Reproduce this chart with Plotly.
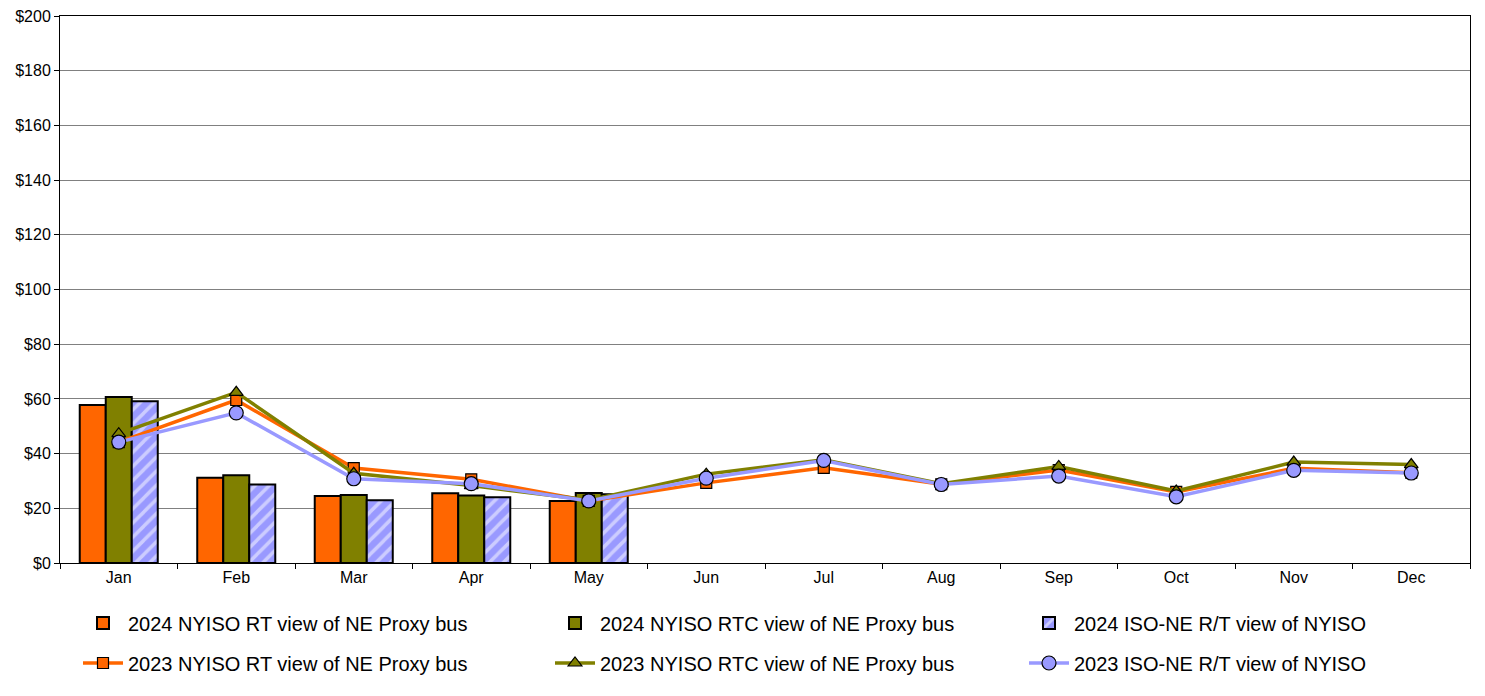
import plotly.graph_objects as go

months = ['Jan', 'Feb', 'Mar', 'Apr', 'May', 'Jun', 'Jul', 'Aug', 'Sep', 'Oct', 'Nov', 'Dec']

# 2024 monthly values (bars, Jan-May)
rt_2024 = [57.8, 31.2, 24.5, 25.5, 22.7]
rtc_2024 = [60.7, 32.1, 24.9, 24.7, 25.6]
isone_2024 = [59.1, 28.7, 22.9, 24.0, 25.1]

# 2023 monthly values (lines)
rt_2023 = [44.2, 59.6, 34.7, 30.6, 22.7, 29.3, 34.8, 28.8, 34.0, 26.0, 34.6, 33.0]
rtc_2023 = [47.3, 62.4, 32.8, 28.3, 23.0, 32.5, 37.7, 29.0, 35.3, 26.3, 36.9, 36.0]
isone_2023 = [44.2, 54.9, 30.8, 29.0, 22.7, 31.0, 37.5, 28.7, 31.8, 24.2, 33.9, 32.9]

tick_vals = list(range(0, 201, 20))
tick_text = ['$' + str(v) for v in tick_vals]

ORANGE = '#FF6600'
OLIVE = '#808000'
LAVENDER = '#9999FF'
FONT = 'Liberation Sans, Arial'

# page body adds an 8px margin, so the figure is sized to fit the window
W, H = 1477, 680

fig = go.Figure()

fig.add_trace(go.Bar(
    x=months[:len(rt_2024)], y=rt_2024, name='2024 NYISO RT view of NE Proxy bus',
    marker=dict(color=ORANGE, line=dict(color='black', width=2)), legend='legend'))
fig.add_trace(go.Bar(
    x=months[:len(rtc_2024)], y=rtc_2024, name='2024 NYISO RTC view of NE Proxy bus',
    marker=dict(color=OLIVE, line=dict(color='black', width=2)), legend='legend2'))
fig.add_trace(go.Bar(
    x=months[:len(isone_2024)], y=isone_2024, name='2024 ISO-NE R/T view of NYISO',
    marker=dict(color=LAVENDER, line=dict(color='black', width=2),
                pattern=dict(shape='/', fgcolor='white', bgcolor=LAVENDER,
                             size=10, solidity=0.35)), legend='legend3'))

fig.add_trace(go.Scatter(
    x=months, y=rt_2023, name='2023 NYISO RT view of NE Proxy bus', mode='lines+markers',
    line=dict(color=ORANGE, width=3.5), legend='legend4',
    marker=dict(symbol='square', size=11, color=ORANGE, line=dict(color='black', width=1.2))))
fig.add_trace(go.Scatter(
    x=months, y=rtc_2023, name='2023 NYISO RTC view of NE Proxy bus', mode='lines+markers',
    line=dict(color=OLIVE, width=3.5), legend='legend5',
    marker=dict(symbol='triangle-up', size=12, color=OLIVE, line=dict(color='black', width=1.2))))
fig.add_trace(go.Scatter(
    x=months, y=isone_2023, name='2023 ISO-NE R/T view of NYISO', mode='lines+markers',
    line=dict(color=LAVENDER, width=3.5), legend='legend6',
    marker=dict(symbol='circle', size=14, color=LAVENDER, line=dict(color='black', width=1.2))))

fig.update_xaxes(
    categoryorder='array', categoryarray=months, range=[-0.5, 11.5],
    showline=True, linecolor='black', linewidth=1, mirror=True,
    ticks='outside', tickson='boundaries', ticklen=5, tickcolor='black',
    showgrid=False, tickfont=dict(family=FONT, size=16, color='black'))
fig.update_yaxes(
    range=[0, 200], tickvals=tick_vals, ticktext=tick_text,
    showline=True, linecolor='black', linewidth=1, mirror=True,
    ticks='outside', ticklen=5, tickcolor='black', automargin=False,
    ticklabeloverflow='allow',
    showgrid=True, gridcolor='#808080', gridwidth=1, zeroline=False,
    tickfont=dict(family=FONT, size=16, color='black'))

# outer chart border on the right side
fig.add_shape(type='line', xref='paper', yref='paper',
              x0=1.006, x1=1.006, y0=-0.225, y1=1.012,
              line=dict(color='black', width=2), layer='above')

leg = dict(orientation='h', xref='container', yref='container',
           xanchor='left', yanchor='middle', itemwidth=40,
           font=dict(family=FONT, size=20, color='black'), bgcolor='rgba(0,0,0,0)')
col_x = [70, 542, 1016]
row_y = [615, 655]
legends = {}
for i in range(6):
    key = 'legend' if i == 0 else 'legend' + str(i + 1)
    legends[key] = dict(leg, x=col_x[i % 3] / W, y=1 - row_y[i // 3] / H)

fig.update_layout(
    width=W, height=H,
    margin=dict(l=52, r=15, t=8, b=125),
    plot_bgcolor='white', paper_bgcolor='white',
    barmode='group', bargap=0.336, bargroupgap=0,
    font=dict(family=FONT, color='black'),
    showlegend=True, **legends)

fig.write_html("out.html")
